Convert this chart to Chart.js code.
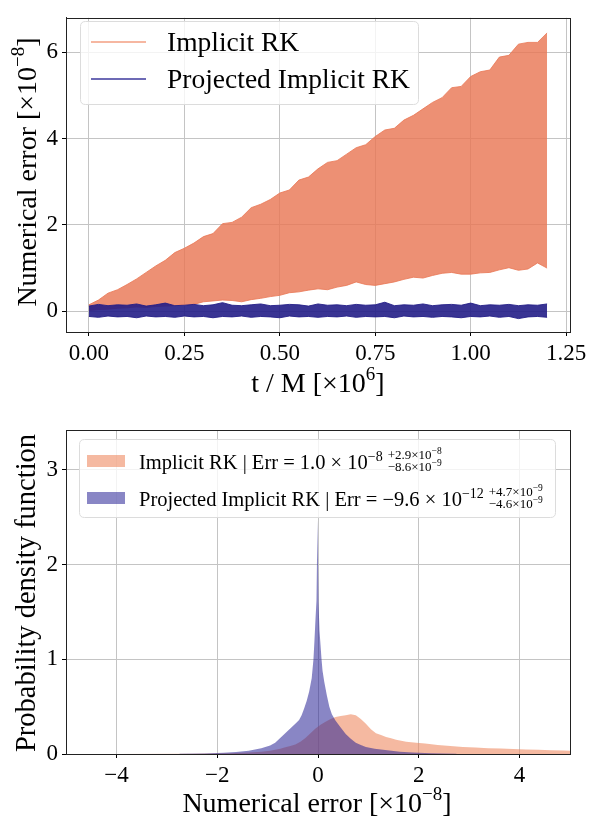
<!DOCTYPE html>
<html>
<head>
<meta charset="utf-8">
<script src="https://cdn.jsdelivr.net/npm/chart.js@4/dist/chart.umd.min.js"></script>
<style>
  html,body{margin:0;padding:0;background:#fff;}
  #top,#bottom{position:absolute;left:0;width:593px;}
  #top{top:0;height:410px;}
  #bottom{top:410px;height:409px;}
</style>
</head>
<body>
<div id="top"><canvas id="errChart"></canvas></div>
<div id="bottom"><canvas id="pdfChart"></canvas></div>
<script>
// ---- data: top panel (t in units of 1e6 M, error in units of 1e-8) ----
const tValues=[0,0.025,0.05,0.075,0.1,0.125,0.15,0.175,0.2,0.225,
  0.25,0.275,0.3,0.325,0.35,0.375,0.4,0.425,0.45,0.475,
  0.5,0.525,0.55,0.575,0.6,0.625,0.65,0.675,0.7,0.725,
  0.75,0.775,0.8,0.825,0.85,0.875,0.9,0.925,0.95,0.975,
  1.0,1.025,1.05,1.075,1.1,1.125,1.15,1.175,1.2];
const implicitUpper=[0.15,0.26,0.42,0.5,0.62,0.75,0.9,1.05,1.18,1.36,
  1.46,1.58,1.73,1.8,2.03,2.06,2.18,2.4,2.48,2.59,
  2.74,2.81,3.04,3.11,3.3,3.45,3.49,3.64,3.79,3.86,
  4.05,4.2,4.24,4.43,4.54,4.69,4.84,4.95,5.18,5.21,
  5.44,5.55,5.59,5.89,5.93,6.19,6.23,6.23,6.45];
const implicitLower=[0.02,0.04,0.05,0.07,0.08,0.1,0.09,0.11,0.12,0.13,
  0.15,0.16,0.22,0.24,0.26,0.25,0.22,0.27,0.3,0.34,
  0.37,0.43,0.45,0.49,0.52,0.5,0.56,0.6,0.68,0.62,
  0.6,0.64,0.68,0.74,0.79,0.77,0.83,0.88,0.9,0.86,
  0.86,0.89,0.9,0.96,1.01,0.95,0.98,1.12,1.0];
const projUpper=[0.12,0.16,0.13,0.15,0.14,0.17,0.12,0.15,0.19,0.13,
  0.14,0.16,0.13,0.15,0.2,0.14,0.13,0.15,0.17,0.13,
  0.14,0.16,0.15,0.12,0.17,0.14,0.15,0.13,0.16,0.14,
  0.15,0.21,0.13,0.15,0.14,0.17,0.13,0.15,0.16,0.14,
  0.19,0.13,0.15,0.14,0.16,0.13,0.15,0.14,0.17];
const projLower=[-0.12,-0.14,-0.11,-0.13,-0.12,-0.15,-0.11,-0.13,-0.12,-0.14,
  -0.11,-0.13,-0.12,-0.15,-0.12,-0.13,-0.11,-0.14,-0.12,-0.13,
  -0.15,-0.11,-0.13,-0.12,-0.14,-0.12,-0.13,-0.11,-0.14,-0.12,
  -0.13,-0.12,-0.15,-0.11,-0.13,-0.12,-0.14,-0.12,-0.13,-0.15,
  -0.12,-0.13,-0.11,-0.14,-0.12,-0.17,-0.13,-0.12,-0.14];
const topXTicks=[0,0.25,0.5,0.75,1.0,1.25];
const topYTicks=[0,2,4,6];

// ---- data: bottom panel (histogram bin edges and densities) ----
const implicitEdges=[-5,-3,-2,-1.5,-1.25,-1,-0.9,-0.8,-0.7,-0.6,-0.5,-0.4,-0.3,-0.2,-0.1,
  0,0.1,0.2,0.3,0.4,0.5,0.6,0.7,0.8,0.9,1.0,1.1,1.2,1.3,1.4,1.5,1.6,1.7,1.8,1.9,2.0,
  2.25,2.5,2.75,3.0,3.25,3.5,3.75,4.0,4.25,4.5,4.75,5.0,5.5];
const implicitDensity=[0.001,0.003,0.008,0.015,0.025,0.035,0.045,0.055,0.07,0.085,0.1,0.13,0.17,0.22,0.27,
  0.31,0.34,0.37,0.39,0.4,0.41,0.42,0.41,0.37,0.32,0.26,0.22,0.2,0.18,0.165,0.15,0.14,0.13,0.125,0.12,
  0.11,0.095,0.085,0.075,0.068,0.062,0.057,0.052,0.048,0.044,0.04,0.036,0.033];
const projEdges=[-3,-2.5,-2,-1.75,-1.5,-1.25,-1,-0.9,-0.8,-0.7,-0.6,-0.5,-0.4,-0.35,-0.3,-0.25,-0.2,-0.15,-0.1,
  -0.08,-0.06,-0.04,-0.02,0,0.02,0.04,0.06,0.08,0.1,
  0.15,0.2,0.25,0.3,0.4,0.5,0.6,0.7,0.8,0.9,1.0,1.25,1.5,1.75,2.0,2.5,3.0];
const projDensity=[0.002,0.005,0.012,0.02,0.035,0.06,0.09,0.12,0.17,0.22,0.27,0.32,0.36,0.41,0.48,0.56,0.66,0.8,
  1.0,1.2,1.42,1.62,2.47,1.6,1.3,1.15,1.0,0.88,
  0.76,0.62,0.5,0.42,0.35,0.28,0.21,0.16,0.12,0.095,0.075,0.055,0.04,0.025,0.015,0.008,0.003];
const botXTicks=[-4,-2,0,2,4];
const botYTicks=[0,1,2,3];

// ---- styling ----
const FONT='"Liberation Serif","DejaVu Serif",serif';
const GRID='#c4c4c4';

function richWidth(ctx,segs){
  let w=0;
  segs.forEach(s=>{ctx.font=s[1]+'px '+FONT; w+=ctx.measureText(s[0]).width;});
  return w;
}
function drawRich(ctx,segs,x,y){
  segs.forEach(s=>{
    ctx.font=s[1]+'px '+FONT;
    ctx.fillText(s[0],x,y+(s[2]||0));
    x+=ctx.measureText(s[0]).width;
  });
  return x;
}
function legendBox(ctx,x,y,w,h){
  const r=5;
  ctx.save();
  ctx.beginPath();
  ctx.moveTo(x+r,y); ctx.lineTo(x+w-r,y); ctx.quadraticCurveTo(x+w,y,x+w,y+r);
  ctx.lineTo(x+w,y+h-r); ctx.quadraticCurveTo(x+w,y+h,x+w-r,y+h);
  ctx.lineTo(x+r,y+h); ctx.quadraticCurveTo(x,y+h,x,y+h-r);
  ctx.lineTo(x,y+r); ctx.quadraticCurveTo(x,y,x+r,y);
  ctx.closePath();
  ctx.fillStyle='rgba(255,255,255,0.8)'; ctx.fill();
  ctx.strokeStyle='#dcdcdc'; ctx.lineWidth=1; ctx.stroke();
  ctx.restore();
}

// frame, axis titles and legend drawn on top
const decorPlugin={
  id:'decor',
  afterDraw(chart,args,opts){
    const ctx=chart.ctx, a=chart.chartArea;
    ctx.save();
    ctx.strokeStyle='#222'; ctx.lineWidth=1;
    ctx.strokeRect(Math.round(a.left)+0.5,Math.round(a.top)+0.5,Math.round(a.right-a.left),Math.round(a.bottom-a.top));
    ctx.fillStyle='#000'; ctx.textBaseline='alphabetic'; ctx.textAlign='left';
    const xw=richWidth(ctx,opts.xTitle);
    drawRich(ctx,opts.xTitle,opts.xTitleX-xw/2,opts.xTitleY);
    ctx.save();
    ctx.translate(opts.yTitleX,opts.yTitleY);
    ctx.rotate(-Math.PI/2);
    const yw=richWidth(ctx,opts.yTitle);
    drawRich(ctx,opts.yTitle,-yw/2,0);
    ctx.restore();
    opts.legend(ctx);
    ctx.restore();
  }
};

function axisCommon(ticks,fmt,fit){
  return {
    type:'linear',
    afterBuildTicks:ax=>{ax.ticks=ticks.map(v=>({value:v}));},
    ticks:{callback:fmt,font:{family:FONT,size:23},color:'#000',padding:4,autoSkip:false,maxRotation:0},
    grid:{color:GRID,lineWidth:1,tickColor:'#000',tickLength:4,tickWidth:1},
    border:{color:'#222',width:1},
    afterFit:fit
  };
}

// ---- top chart ----
const pts=(ys)=>tValues.map((t,i)=>({x:t,y:ys[i]}));
new Chart(document.getElementById('errChart'),{
  type:'line',
  data:{datasets:[
    {data:pts(implicitLower),borderColor:'rgba(233,120,85,0.82)',borderWidth:1,pointRadius:0,fill:false,order:1},
    {data:pts(implicitUpper),borderColor:'rgba(233,120,85,0.82)',borderWidth:1,pointRadius:0,fill:'-1',backgroundColor:'rgba(233,120,85,0.82)',order:1},
    {data:pts(projLower),borderColor:'rgba(35,30,135,0.9)',borderWidth:1,pointRadius:0,fill:false,order:0},
    {data:pts(projUpper),borderColor:'rgba(35,30,135,0.9)',borderWidth:1,pointRadius:0,fill:'-1',backgroundColor:'rgba(35,30,135,0.9)',order:0}
  ]},
  options:{
    responsive:true,maintainAspectRatio:false,animation:false,devicePixelRatio:1,
    layout:{padding:{top:7,right:23,left:0,bottom:0}},
    elements:{line:{tension:0}},
    scales:{
      x:Object.assign(axisCommon(topXTicks,v=>v.toFixed(2),s=>{s.height=78;}),{min:-0.06,max:1.26}),
      y:Object.assign(axisCommon(topYTicks,v=>''+v,s=>{s.width=66;}),{min:-0.48,max:6.8})
    },
    plugins:{
      legend:{display:false},tooltip:{enabled:false},
      decor:{
        xTitle:[['t / M [×10',28],['6',19,-12],[']',28]],xTitleX:318,xTitleY:392,
        yTitle:[['Numerical error [×10',28],['−8',19,-12],[']',28]],yTitleX:36,yTitleY:172,
        legend:ctx=>{
          legendBox(ctx,80.5,21.5,338,83);
          ctx.lineWidth=2; ctx.strokeStyle='#f6b7a1';
          ctx.beginPath(); ctx.moveTo(91,42); ctx.lineTo(146,42); ctx.stroke();
          ctx.lineWidth=1.5; ctx.strokeStyle='#3c399c';
          ctx.beginPath(); ctx.moveTo(91,79); ctx.lineTo(146,79); ctx.stroke();
          ctx.fillStyle='#000';
          drawRich(ctx,[['Implicit RK',27.5]],167,51);
          drawRich(ctx,[['Projected Implicit RK',27.5]],167,88);
        }
      }
    }
  },
  plugins:[decorPlugin]
});

// ---- bottom chart: densities drawn at bin centres ----
const centres=(edges,dens)=>dens.map((d,i)=>({x:(edges[i]+edges[i+1])/2,y:d}));
const ORANGE_H='rgba(239,138,98,0.6)';
const PURPLE_H='rgba(40,35,150,0.55)';
new Chart(document.getElementById('pdfChart'),{
  type:'line',
  data:{datasets:[
    {data:centres(implicitEdges,implicitDensity),borderWidth:0,pointRadius:0,fill:'origin',backgroundColor:ORANGE_H,order:1},
    {data:centres(projEdges,projDensity),borderWidth:0,pointRadius:0,fill:'origin',backgroundColor:PURPLE_H,order:0}
  ]},
  options:{
    responsive:true,maintainAspectRatio:false,animation:false,devicePixelRatio:1,
    layout:{padding:{top:20,right:23,left:0,bottom:0}},
    elements:{line:{tension:0}},
    scales:{
      x:Object.assign(axisCommon(botXTicks,v=>v<0?'−'+Math.abs(v):''+v,s=>{s.height=65;}),{min:-5,max:5}),
      y:Object.assign(axisCommon(botYTicks,v=>''+v,s=>{s.width=66;}),{min:0,max:3.42})
    },
    plugins:{
      legend:{display:false},tooltip:{enabled:false},
      decor:{
        xTitle:[['Numerical error [×10',28],['−8',19,-12],[']',28]],xTitleX:317,xTitleY:402,
        yTitle:[['Probability density function',28.5]],yTitleX:35,yTitleY:183,
        legend:ctx=>{
          legendBox(ctx,79.5,29.5,476,78);
          ctx.fillStyle=ORANGE_H; ctx.fillRect(87,45,38,12);
          ctx.fillStyle=PURPLE_H; ctx.fillRect(87,82,38,12);
          ctx.fillStyle='#000';
          let x=drawRich(ctx,[['Implicit RK | Err = 1.0 × 10',20.5],['−8',14,-8]],139,59);
          drawRich(ctx,[['+2.9×10',13],['−8',9.5,-5]],x+5,49);
          drawRich(ctx,[['−8.6×10',13],['−9',9.5,-5]],x+5,61);
          x=drawRich(ctx,[['Projected Implicit RK | Err = −9.6 × 10',20.5],['−12',14,-8]],139,96);
          drawRich(ctx,[['+4.7×10',13],['−9',9.5,-5]],x+5,86);
          drawRich(ctx,[['−4.6×10',13],['−9',9.5,-5]],x+5,98);
        }
      }
    }
  },
  plugins:[decorPlugin]
});
</script>
</body>
</html>
